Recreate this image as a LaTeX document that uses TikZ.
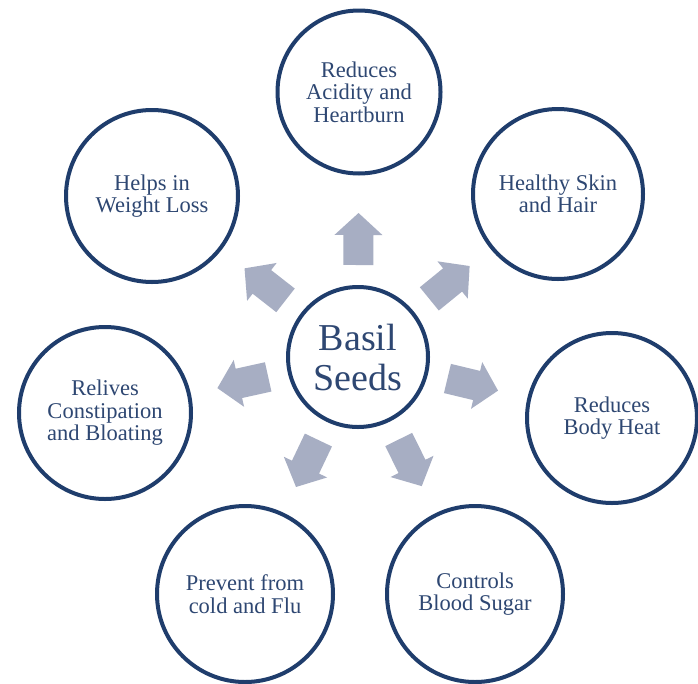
\documentclass[tikz,border=0pt]{standalone}
\usepackage{fontspec}
\setmainfont{Liberation Serif}
\usetikzlibrary{calc,shadows}
\definecolor{ringc}{HTML}{1F3D6C}
\definecolor{textc}{HTML}{2E4772}
\definecolor{arrowc}{HTML}{A7AEC3}
\begin{document}
\begin{tikzpicture}[x=1pt,y=-1pt,
  ring/.style={circle, draw=ringc, line width=4pt, fill=white, inner sep=0pt,
    text=textc, align=center, font=\fontsize{22.5}{22.5}\selectfont,
    drop shadow={opacity=0.18, shadow xshift=1pt, shadow yshift=-1.5pt}},
  blockarrow/.style={fill=arrowc}]
\useasboundingbox[fill=white] (0,0) rectangle (698,683);
\coordinate (c0) at (358,357);
\coordinate (o1) at (359,92);
\coordinate (o2) at (558,194);
\coordinate (o3) at (612,418);
\coordinate (o4) at (475,594);
\coordinate (o5) at (245,594);
\coordinate (o6) at (105,413);
\coordinate (o7) at (152,196);
\foreach \o in {o1,o2,o3,o4,o5,o6,o7}{
  \fill[blockarrow] let \p1=($(\o)-(c0)$), \n1={atan2(\y1,\x1)} in
    [shift={(c0)}, rotate=\n1]
    (92pt,-15pt) -- (122pt,-15pt) -- (122pt,-24pt) -- (144pt,0pt)
    -- (122pt,24pt) -- (122pt,15pt) -- (92pt,15pt) -- cycle;
}
\node[ring, minimum size=140, font=\fontsize{38}{40}\selectfont] (c) at (c0) {Basil\\Seeds};
\node[ring, minimum size=163] (n1) at (o1) {Reduces\\Acidity and\\Heartburn};
\node[ring, minimum size=170] (n2) at (o2) {Healthy Skin\\and Hair};
\node[ring, minimum size=170] (n3) at (o3) {Reduces\\Body Heat};
\node[ring, minimum size=176] (n4) at (o4) {Controls\\Blood Sugar};
\node[ring, minimum size=176] (n5) at (o5) {Prevent from\\cold and Flu};
\node[ring, minimum size=172] (n6) at (o6) {Relives\\Constipation\\and Bloating};
\node[ring, minimum size=172] (n7) at (o7) {Helps in\\Weight Loss};
\end{tikzpicture}
\end{document}
